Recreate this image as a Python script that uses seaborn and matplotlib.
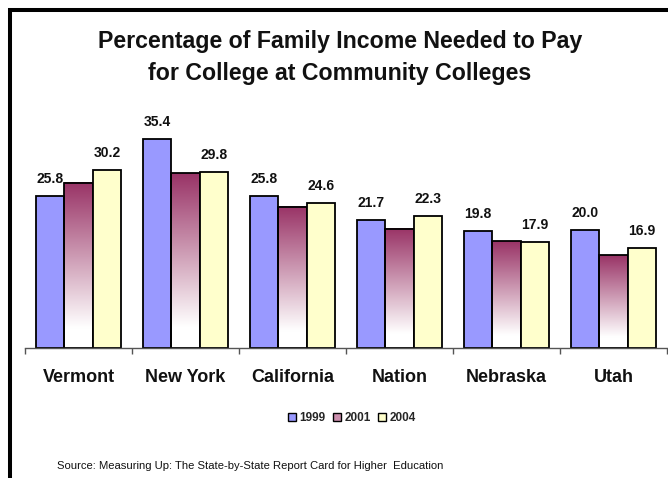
import numpy as np
import pandas as pd
import matplotlib
matplotlib.use("Agg")
import matplotlib.pyplot as plt
from matplotlib.colors import LinearSegmentedColormap
from matplotlib.patches import Patch
from matplotlib.lines import Line2D
import seaborn as sns

states = ["Vermont", "New York", "California", "Nation", "Nebraska", "Utah"]
years = ["1999", "2001", "2004"]
pct_1999 = [25.8, 35.4, 25.8, 21.7, 19.8, 20.0]
pct_2001 = [28.0, 29.6, 23.9, 20.2, 18.1, 15.7]
pct_2004 = [30.2, 29.8, 24.6, 22.3, 17.9, 16.9]
labeled_years = ["1999", "2004"]

title = "Percentage of Family Income Needed to Pay\nfor College at Community Colleges"
source = "Source: Measuring Up: The State-by-State Report Card for Higher  Education"

colors = {"1999": "#9999FF", "2001": "#993366", "2004": "#FFFFCC"}

df = pd.DataFrame({
    "state": states * 3,
    "year": [y for y in years for _ in states],
    "pct": pct_1999 + pct_2001 + pct_2004,
})

sns.set_theme(style="white")
plt.rcParams["font.family"] = ["Liberation Sans", "DejaVu Sans"]

W, H = 668, 478
fig = plt.figure(figsize=(W / 100, H / 100), dpi=100)
ax = fig.add_axes([25 / W, 130 / H, 642 / W, 236.4 / H])

sns.barplot(data=df, x="state", y="pct", hue="year", hue_order=years,
            palette=colors, edgecolor="black", linewidth=1.3,
            saturation=1, width=0.8, legend=False, ax=ax)

# vertical white-to-maroon fade for the 2001 bars
fade = LinearSegmentedColormap.from_list(
    "fade", [(0.0, "#FFFFFF"), (0.12, "#FFFFFF"), (1.0, "#993366")])
grad = np.linspace(0, 1, 256).reshape(-1, 1)
for bar in ax.containers[1]:
    x0, w, h = bar.get_x(), bar.get_width(), bar.get_height()
    ax.imshow(grad, cmap=fade, origin="lower", aspect="auto",
              extent=[x0, x0 + w, 0, h], zorder=bar.get_zorder() - 0.1,
              interpolation="bilinear")
    bar.set_facecolor("none")

# value labels on the 1999 and 2004 bars
for idx, yr in enumerate(years):
    if yr not in labeled_years:
        continue
    for bar, v in zip(ax.containers[idx], df[df.year == yr]["pct"]):
        ax.annotate(f"{v:.1f}", (bar.get_x() + bar.get_width() / 2, v),
                    xytext=(0, 7), textcoords="offset points",
                    ha="center", va="bottom", fontsize=10,
                    fontweight="bold", color="#111111")

ax.set_xlim(-0.5, len(states) - 0.5)
ax.set_ylim(0, 40)
ax.set_xlabel("")
ax.set_ylabel("")
ax.set_yticks([])
for side in ["left", "right", "top"]:
    ax.spines[side].set_visible(False)
ax.spines["bottom"].set_color("#555555")
ax.spines["bottom"].set_linewidth(1.0)

ax.set_xticks(np.arange(len(states)))
ax.set_xticklabels(states, fontsize=13, fontweight="bold", color="#111111")
ax.set_xticks(np.arange(len(states) + 1) - 0.5, minor=True)
ax.tick_params(axis="x", which="major", length=0, pad=15)
ax.tick_params(axis="x", which="minor", length=4.5, width=1.0,
               color="#555555", direction="out", bottom=True)

fig.text(340 / W, 1 - 57.5 / H, title, ha="center", va="center",
         fontsize=16.7, fontweight="bold", color="#111111", linespacing=1.45)

handles = [Patch(facecolor=colors["1999"], edgecolor="black", lw=1.0),
           Patch(facecolor="#CC8FAE", edgecolor="black", lw=1.0),
           Patch(facecolor=colors["2004"], edgecolor="black", lw=1.0)]
fig.legend(handles, years, loc="center", bbox_to_anchor=(352 / W, 1 - 418 / H),
           ncol=3, frameon=False, handlelength=0.7, handleheight=0.7,
           handletextpad=0.3, columnspacing=0.6,
           prop={"size": 8.5, "weight": "bold"})

fig.text(57 / W, 1 - 466 / H, source, ha="left", va="center",
         fontsize=8.1, color="#111111")

# outer frame: left and top rules
fig.add_artist(Line2D([10 / W, 10 / W], [0, 1 - 8 / H], color="black",
                      lw=2.9, transform=fig.transFigure, solid_capstyle="butt"))
fig.add_artist(Line2D([8 / W, 1], [1 - 10 / H, 1 - 10 / H], color="black",
                      lw=2.9, transform=fig.transFigure, solid_capstyle="butt"))

fig.savefig("out.png", dpi=100)
